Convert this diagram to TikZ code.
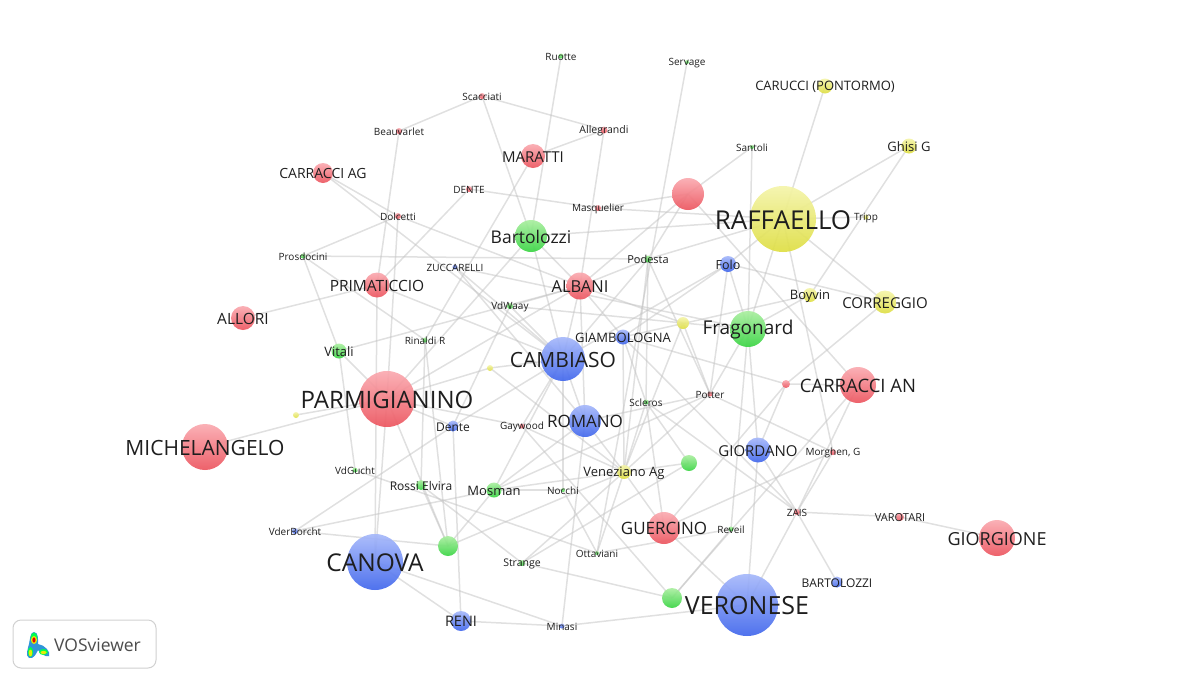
\documentclass[tikz,border=0pt]{standalone}
\usepackage{fontspec}
\setmainfont{Open Sans}
\usetikzlibrary{backgrounds}
\definecolor{linkgray}{HTML}{C4C4C4}
\definecolor{labelgray}{HTML}{1E1E1E}
\tikzset{
	ball/.style={circle,draw=none,inner sep=0pt,minimum size=#1,opacity=0.92},
	redball/.style={ball=#1,top color={rgb,255:red,250;green,170;blue,176},bottom color={rgb,255:red,236;green,84;blue,94}},
	blueball/.style={ball=#1,top color={rgb,255:red,166;green,184;blue,250},bottom color={rgb,255:red,64;green,102;blue,236}},
	greenball/.style={ball=#1,top color={rgb,255:red,170;green,238;blue,160},bottom color={rgb,255:red,56;green,212;blue,66}},
	yellowball/.style={ball=#1,top color={rgb,255:red,244;green,244;blue,170},bottom color={rgb,255:red,222;green,222;blue,66}},
	lab/.style n args={2}{label={[text=labelgray,inner sep=0pt,yshift=-0.8pt,font=\fontsize{#1}{#1}\selectfont]center:#2}},
	link/.style={draw=linkgray,line width=1.5pt,opacity=0.52},
}
\begin{document}
\begin{tikzpicture}[x=1pt,y=-1pt]
	\useasboundingbox (0,0) rectangle (1200,683);

	% red cluster
	\node[redball=56pt,lab={24}{PARMIGIANINO}] (parmigianino) at (387,399) {};
	\node[redball=46pt,lab={21}{MICHELANGELO}] (michelangelo) at (205,447) {};
	\node[redball=25pt,lab={15.5}{PRIMATICCIO}] (primaticcio) at (377,285) {};
	\node[redball=24pt,lab={15.5}{ALLORI}] (allori) at (243,318) {};
	\node[redball=20pt,lab={14}{CARRACCI AG}] (carracciag) at (323,173) {};
	\node[redball=24pt,lab={15}{MARATTI}] (maratti) at (533,156) {};
	\node[redball=27pt,lab={16.5}{ALBANI}] (albani) at (580,286) {};
	\node[redball=36pt,lab={18.5}{CARRACCI AN}] (carraccian) at (858,385) {};
	\node[redball=32pt,lab={17}{GUERCINO}] (guercino) at (664,528) {};
	\node[redball=36pt,lab={18}{GIORGIONE}] (giorgione) at (997,538) {};
	\node[redball=32pt] (redtop) at (688,194) {};
	\node[redball=8pt] (redsmall) at (786,384) {};
	\node[redball=6pt,lab={10}{Scacciati}] (scacciati) at (482,96) {};
	\node[redball=6pt,lab={10}{Beauvarlet}] (beauvarlet) at (399,131) {};
	\node[redball=7pt,lab={10.5}{Allegrandi}] (allegrandi) at (604,130) {};
	\node[redball=6pt,lab={10}{DENTE}] (dentered) at (469,189) {};
	\node[redball=6pt,lab={10}{Dolcetti}] (dolcetti) at (398,216) {};
	\node[redball=6pt,lab={10}{Masquelier}] (masquelier) at (598,208) {};
	\node[redball=5pt,lab={10}{Potter}] (potter) at (710,394) {};
	\node[redball=5pt,lab={10}{Gaywood}] (gaywood) at (522,426) {};
	\node[redball=6pt,lab={10}{ZAIS}] (zais) at (797,512) {};
	\node[redball=8pt,lab={11}{VAROTARI}] (varotari) at (900,517) {};
	\node[redball=6pt,lab={10}{Morghen, G}] (morghen) at (833,452) {};

	% blue cluster
	\node[blueball=56pt,lab={24.5}{CANOVA}] (canova) at (375,562) {};
	\node[blueball=62pt,lab={25}{VERONESE}] (veronese) at (747,605) {};
	\node[blueball=44pt,lab={21}{CAMBIASO}] (cambiaso) at (563,359) {};
	\node[blueball=32pt,lab={17}{ROMANO}] (romano) at (585,421) {};
	\node[blueball=25pt,lab={15}{GIORDANO}] (giordano) at (758,450) {};
	\node[blueball=16pt,lab={12.5}{Folo}] (folo) at (728,264) {};
	\node[blueball=15pt,lab={13}{GIAMBOLOGNA}] (giambologna) at (623,337) {};
	\node[blueball=11pt,lab={12}{Dente}] (denteblue) at (453,426) {};
	\node[blueball=20pt,lab={14.5}{RENI}] (reni) at (461,621) {};
	\node[blueball=11pt,lab={12}{BARTOLOZZI}] (bartolozziblue) at (837,582) {};
	\node[blueball=5pt,lab={10}{ZUCCARELLI}] (zuccarelli) at (455,267) {};
	\node[blueball=6pt,lab={10}{VderBorcht}] (vderborcht) at (295,531) {};
	\node[blueball=5pt,lab={10}{Minasi}] (minasi) at (562,626) {};

	% green cluster
	\node[greenball=32pt,lab={17.5}{Bartolozzi}] (bartolozzi) at (531,236) {};
	\node[greenball=36pt,lab={19}{Fragonard}] (fragonard) at (748,329) {};
	\node[greenball=15pt,lab={13}{Mosman}] (mosman) at (494,490) {};
	\node[greenball=10pt,lab={12}{Rossi Elvira}] (rossi) at (421,485) {};
	\node[greenball=15pt,lab={13}{Vitali}] (vitali) at (339,351) {};
	\node[greenball=20pt] (greenleft) at (448,546) {};
	\node[greenball=20pt] (greenlow) at (672,598) {};
	\node[greenball=16pt] (greenmid) at (689,463) {};
	\node[greenball=5pt,lab={10}{Ruotte}] (ruotte) at (561,56) {};
	\node[greenball=4pt,lab={10}{Servage}] (servage) at (687,62) {};
	\node[greenball=5pt,lab={10}{Prosdocini}] (prosdocini) at (303,256) {};
	\node[greenball=6pt,lab={10}{VdWaay}] (vdwaay) at (510,306) {};
	\node[greenball=5pt,lab={10}{Rinaldi R}] (rinaldi) at (425,340) {};
	\node[greenball=7pt,lab={11}{Podesta}] (podesta) at (648,259) {};
	\node[greenball=4pt,lab={10}{Santoli}] (santoli) at (752,147) {};
	\node[greenball=5pt,lab={10}{Scleros}] (scleros) at (646,402) {};
	\node[greenball=5pt,lab={10}{VdGucht}] (vdgucht) at (355,470) {};
	\node[greenball=4pt,lab={10}{Nocchi}] (nocchi) at (563,490) {};
	\node[greenball=4pt,lab={10}{Ottaviani}] (ottaviani) at (597,553) {};
	\node[greenball=6pt,lab={10.5}{Strange}] (strange) at (522,563) {};
	\node[greenball=5pt,lab={10}{Reveil}] (reveil) at (731,529) {};

	% yellow cluster
	\node[yellowball=66pt,lab={26}{RAFFAELLO}] (raffaello) at (783,219) {};
	\node[yellowball=15pt,lab={13}{CARUCCI (PONTORMO)}] (carucci) at (825,86) {};
	\node[yellowball=15pt,lab={13}{Ghisi G}] (ghisi) at (909,146) {};
	\node[yellowball=23pt,lab={15}{CORREGGIO}] (correggio) at (885,302) {};
	\node[yellowball=14pt,lab={13}{Boyvin}] (boyvin) at (810,295) {};
	\node[yellowball=12pt] (yellowmid) at (683,323) {};
	\node[yellowball=14pt,lab={13}{Veneziano Ag}] (veneziano) at (624,472) {};
	\node[yellowball=5pt,lab={10}{Tripp}] (tripp) at (866,217) {};
	\node[yellowball=6pt] (yellowcam) at (490,368) {};
	\node[yellowball=6pt] (yellowleft) at (296,415) {};

	\begin{scope}[on background layer]
		\foreach \a/\b in {ruotte/bartolozzi,scacciati/beauvarlet,scacciati/allegrandi,scacciati/bartolozzi,maratti/allegrandi,
			beauvarlet/primaticcio,allegrandi/albani,maratti/rinaldi,carracciag/dolcetti,carracciag/cambiaso,dolcetti/albani,
			dolcetti/prosdocini,dolcetti/parmigianino,dentered/masquelier,masquelier/raffaello,masquelier/redtop,dentered/primaticcio,
			prosdocini/podesta,prosdocini/rinaldi,prosdocini/vitali,allori/primaticcio,primaticcio/cambiaso,primaticcio/canova,
			zuccarelli/cambiaso,zuccarelli/fragonard,zuccarelli/romano,bartolozzi/parmigianino,bartolozzi/albani,bartolozzi/cambiaso,
			bartolozzi/raffaello,vdwaay/albani,vitali/albani,vdwaay/denteblue,vdwaay/yellowmid,vdwaay/cambiaso,parmigianino/albani,
			yellowcam/cambiaso,yellowcam/parmigianino,yellowcam/veneziano,podesta/raffaello,podesta/albani,servage/ottaviani,
			podesta/scleros,podesta/potter,redtop/podesta,redtop/albani,redtop/carraccian,redtop/santoli,santoli/fragonard,
			carucci/fragonard,ghisi/raffaello,ghisi/boyvin,tripp/raffaello,raffaello/correggio,raffaello/folo,raffaello/morghen,
			folo/correggio,folo/fragonard,folo/potter,folo/giambologna,folo/cambiaso,giambologna/boyvin,boyvin/fragonard,
			yellowmid/fragonard,yellowmid/potter,yellowmid/veneziano,correggio/redsmall,redsmall/carraccian,redsmall/giordano,
			redsmall/guercino,giambologna/redsmall,carraccian/zais,carraccian/greenlow,reveil/greenlow,reveil/ottaviani,
			morghen/guercino,morghen/zais,zais/giordano,zais/varotari,varotari/giorgione,zais/bartolozziblue,zais/veronese,
			scleros/zais,giambologna/zais,potter/morghen,potter/veneziano,potter/mosman,giordano/fragonard,giordano/veronese,
			fragonard/reveil,fragonard/potter,veronese/guercino,veronese/minasi,strange/greenlow,gaywood/greenlow,guercino/veneziano,
			guercino/scleros,scleros/greenmid,veneziano/greenmid,veneziano/scleros,veneziano/giambologna,veneziano/podesta,
			mosman/veneziano,mosman/nocchi,mosman/vderborcht,mosman/greenleft,mosman/cambiaso,mosman/romano,vderborcht/greenleft,
			greenleft/parmigianino,greenleft/rinaldi,greenleft/veneziano,rossi/rinaldi,rossi/greenleft,vitali/vdgucht,
			vdgucht/ottaviani,rossi/strange,vderborcht/denteblue,canova/parmigianino,canova/reni,canova/minasi,
			reni/minasi,reni/denteblue,minasi/romano,strange/veneziano,strange/greenmid,parmigianino/gaywood,gaywood/veneziano,
			parmigianino/michelangelo,parmigianino/yellowleft,vitali/parmigianino,denteblue/cambiaso,denteblue/parmigianino,
			nocchi/cambiaso,nocchi/ottaviani,veneziano/ottaviani,romano/veneziano,cambiaso/gaywood,cambiaso/romano,albani/romano,
			albani/giambologna,albani/cambiaso,cambiaso/podesta,giambologna/scleros,romano/potter,albani/yellowmid}
			\draw[link] (\a.center) -- (\b.center);
	\end{scope}

	% logo
	\node[draw=black!18,line width=1pt,rounded corners=8pt,fill=white,minimum width=143pt,minimum height=48pt,inner sep=0pt] (logobox) at (84.5,644) {};
	\node[text=black!70,font=\fontsize{17.5}{17.5}\selectfont,inner sep=0pt] (logotext) at (97.5,645) {VOSviewer};
	\fill[cyan!70!blue!85] (34,632) .. controls (39,632) and (38,641) .. (38,644) .. controls (45,645) and (51,652) .. (49,656) .. controls (45,658) and (40,652) .. (38,650) .. controls (36,654) and (34,659) .. (29,658) .. controls (25,656) and (28,648) .. (29,644) .. controls (30,640) and (30,632) .. (34,632) -- cycle;
	\fill[green!70!cyan] (34,638) ellipse (3.4pt and 5.5pt) (30.5,652) ellipse (2.6pt and 5pt) (43.5,652) ellipse (4.5pt and 3pt);
	\fill[yellow!90!green] (34,640) ellipse (3pt and 4pt) (30.5,653) ellipse (1.8pt and 3.4pt) (43.5,652.5) ellipse (3pt and 1.6pt);
	\fill[red!90!black] (34,640) ellipse (1.6pt and 2.6pt);
\end{tikzpicture}
\end{document}
